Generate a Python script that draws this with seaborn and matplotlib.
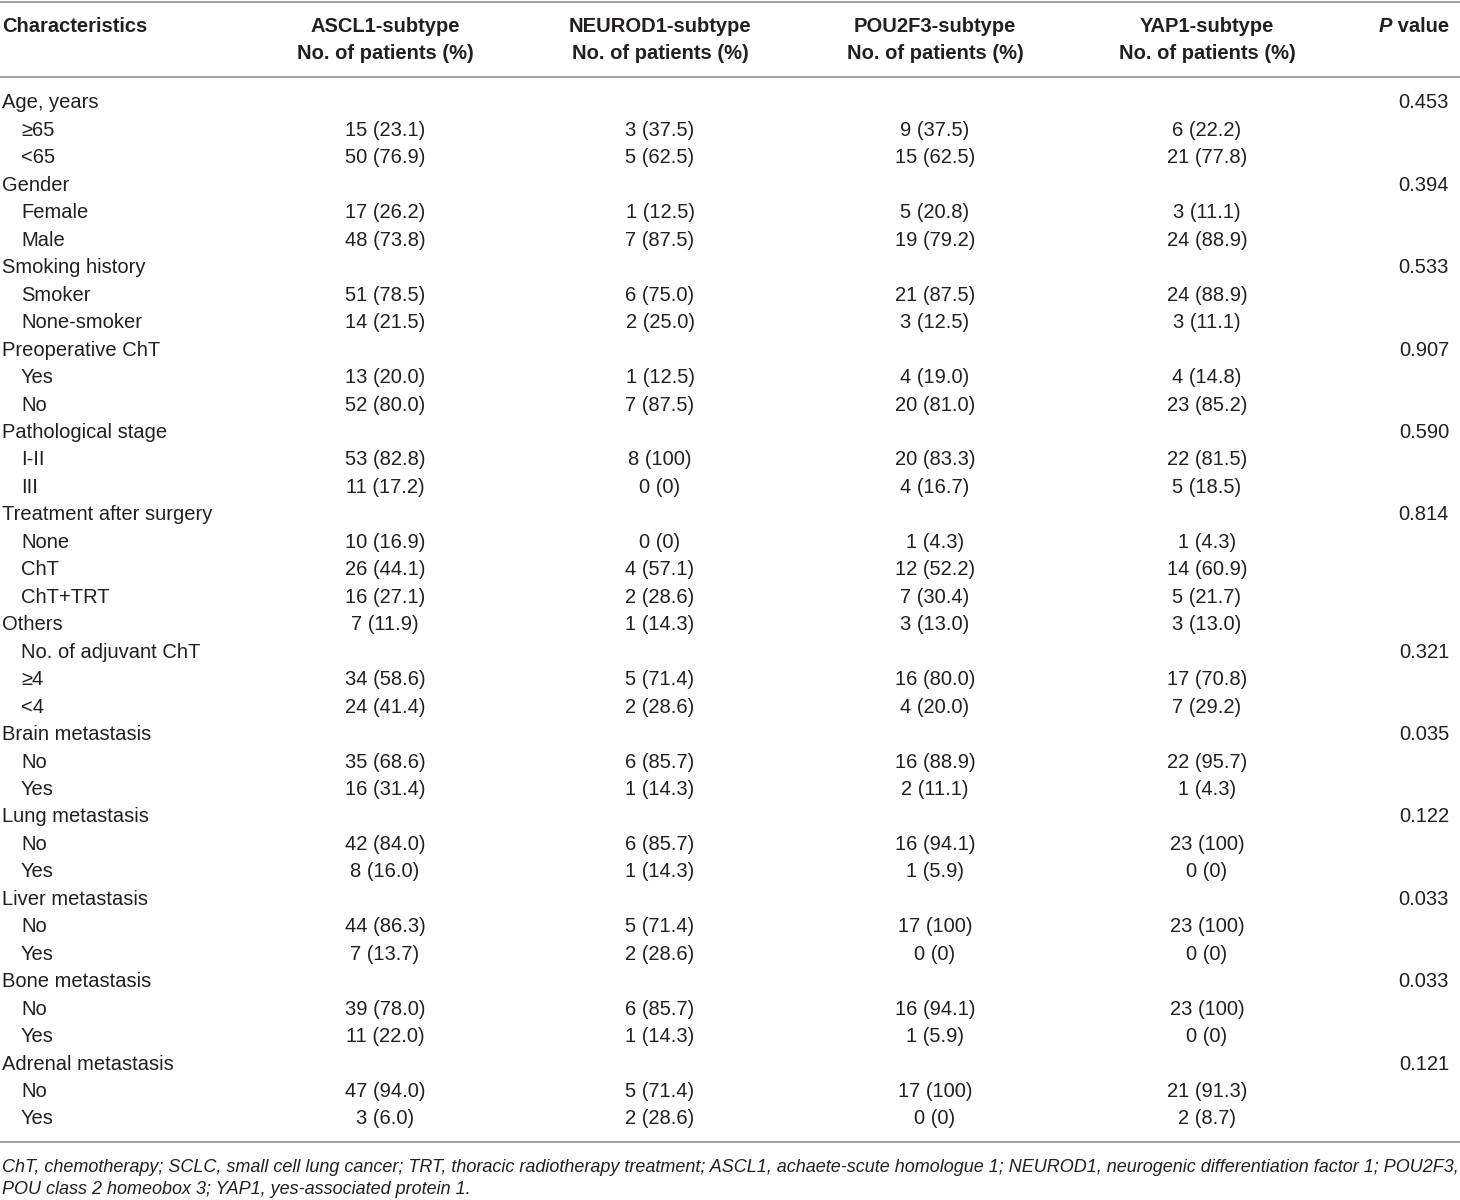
import numpy as np
import pandas as pd
import seaborn as sns
import matplotlib
matplotlib.use("Agg")
import matplotlib.pyplot as plt
from matplotlib import font_manager

# Table content
headers = ["ASCL1-subtype", "NEUROD1-subtype", "POU2F3-subtype", "YAP1-subtype"]
sub_header = "No. of patients (%)"

characteristics = [
    "Age, years", "≥65", "<65",
    "Gender", "Female", "Male",
    "Smoking history", "Smoker", "None-smoker",
    "Preoperative ChT", "Yes", "No",
    "Pathological stage", "I-II", "III",
    "Treatment after surgery", "None", "ChT", "ChT+TRT",
    "Others", "No. of adjuvant ChT", "≥4", "<4",
    "Brain metastasis", "No", "Yes",
    "Lung metastasis", "No", "Yes",
    "Liver metastasis", "No", "Yes",
    "Bone metastasis", "No", "Yes",
    "Adrenal metastasis", "No", "Yes",
]
# 0 = group heading, 1 = indented sub-row
indent = [
    0, 1, 1,
    0, 1, 1,
    0, 1, 1,
    0, 1, 1,
    0, 1, 1,
    0, 1, 1, 1,
    0, 1, 1, 1,
    0, 1, 1,
    0, 1, 1,
    0, 1, 1,
    0, 1, 1,
    0, 1, 1,
]

ascl1 = ["", "15 (23.1)", "50 (76.9)",
         "", "17 (26.2)", "48 (73.8)",
         "", "51 (78.5)", "14 (21.5)",
         "", "13 (20.0)", "52 (80.0)",
         "", "53 (82.8)", "11 (17.2)",
         "", "10 (16.9)", "26 (44.1)", "16 (27.1)",
         "7 (11.9)", "", "34 (58.6)", "24 (41.4)",
         "", "35 (68.6)", "16 (31.4)",
         "", "42 (84.0)", "8 (16.0)",
         "", "44 (86.3)", "7 (13.7)",
         "", "39 (78.0)", "11 (22.0)",
         "", "47 (94.0)", "3 (6.0)"]
neurod1 = ["", "3 (37.5)", "5 (62.5)",
           "", "1 (12.5)", "7 (87.5)",
           "", "6 (75.0)", "2 (25.0)",
           "", "1 (12.5)", "7 (87.5)",
           "", "8 (100)", "0 (0)",
           "", "0 (0)", "4 (57.1)", "2 (28.6)",
           "1 (14.3)", "", "5 (71.4)", "2 (28.6)",
           "", "6 (85.7)", "1 (14.3)",
           "", "6 (85.7)", "1 (14.3)",
           "", "5 (71.4)", "2 (28.6)",
           "", "6 (85.7)", "1 (14.3)",
           "", "5 (71.4)", "2 (28.6)"]
pou2f3 = ["", "9 (37.5)", "15 (62.5)",
          "", "5 (20.8)", "19 (79.2)",
          "", "21 (87.5)", "3 (12.5)",
          "", "4 (19.0)", "20 (81.0)",
          "", "20 (83.3)", "4 (16.7)",
          "", "1 (4.3)", "12 (52.2)", "7 (30.4)",
          "3 (13.0)", "", "16 (80.0)", "4 (20.0)",
          "", "16 (88.9)", "2 (11.1)",
          "", "16 (94.1)", "1 (5.9)",
          "", "17 (100)", "0 (0)",
          "", "16 (94.1)", "1 (5.9)",
          "", "17 (100)", "0 (0)"]
yap1 = ["", "6 (22.2)", "21 (77.8)",
        "", "3 (11.1)", "24 (88.9)",
        "", "24 (88.9)", "3 (11.1)",
        "", "4 (14.8)", "23 (85.2)",
        "", "22 (81.5)", "5 (18.5)",
        "", "1 (4.3)", "14 (60.9)", "5 (21.7)",
        "3 (13.0)", "", "17 (70.8)", "7 (29.2)",
        "", "22 (95.7)", "1 (4.3)",
        "", "23 (100)", "0 (0)",
        "", "23 (100)", "0 (0)",
        "", "23 (100)", "0 (0)",
        "", "21 (91.3)", "2 (8.7)"]
p_values = ["0.453", "", "",
            "0.394", "", "",
            "0.533", "", "",
            "0.907", "", "",
            "0.590", "", "",
            "0.814", "", "", "",
            "", "0.321", "", "",
            "0.035", "", "",
            "0.122", "", "",
            "0.033", "", "",
            "0.033", "", "",
            "0.121", "", ""]

footnote = ["ChT, chemotherapy; SCLC, small cell lung cancer; TRT, thoracic radiotherapy treatment; "
            "ASCL1, achaete-scute homologue 1; NEUROD1, neurogenic differentiation factor 1; POU2F3,",
            "POU class 2 homeobox 3; YAP1, yes-associated protein 1."]

df = pd.DataFrame({"char": characteristics, "indent": indent,
                   "ASCL1": ascl1, "NEUROD1": neurod1, "POU2F3": pou2f3,
                   "YAP1": yap1, "P": p_values})

sns.set_theme(style="white")
installed = {f.name for f in font_manager.fontManager.ttflist}
family = "Liberation Sans Narrow" if "Liberation Sans Narrow" in installed else "Liberation Sans"
plt.rcParams["font.family"] = [family, "DejaVu Sans"]

fig = plt.figure(figsize=(14.6, 12), dpi=100)
ax = fig.add_axes([0, 0, 1, 1])
# x in pixel-like units across the width, y in row units
ax.set_xlim(0, 1460)
ax.set_ylim(39.95, -3.751)
ax.axis("off")

fs = 14.5
text_color = "#231f20"
col_x = [385, 660, 935, 1207]
value_cols = ["ASCL1", "NEUROD1", "POU2F3", "YAP1"]

# header
ax.text(2, -2.80, "Characteristics", ha="left", va="center", fontsize=fs,
        fontweight="bold", color=text_color)
for x, h in zip(col_x, headers):
    ax.text(x, -2.80, h, ha="center", va="center", fontsize=fs,
            fontweight="bold", color=text_color)
    ax.text(x, -1.82, sub_header, ha="center", va="center", fontsize=fs,
            fontweight="bold", color=text_color)

# "P value" with italic P: place " value" then put P just left of it
val = ax.text(1449, -2.80, " value", ha="right", va="center", fontsize=fs,
              fontweight="bold", color=text_color)
fig.canvas.draw()
bb = val.get_window_extent(renderer=fig.canvas.get_renderer())
left_x = ax.transData.inverted().transform((bb.x0, bb.y0))[0]
ax.text(left_x, -2.80, "P", ha="right", va="center", fontsize=fs,
        fontweight="bold", fontstyle="italic", color=text_color)

# rules
for y in [-3.68, -0.947, 37.84]:
    ax.axhline(y, color="#9a9a9a", linewidth=1.3)

# body
for i, row in df.iterrows():
    ax.text(2 + 19 * row["indent"], i, row["char"], ha="left", va="center",
            fontsize=fs, color=text_color)
    for x, c in zip(col_x, value_cols):
        if row[c]:
            ax.text(x, i, row[c], ha="center", va="center", fontsize=fs, color=text_color)
    if row["P"]:
        ax.text(1449, i, row["P"], ha="right", va="center", fontsize=fs, color=text_color)

# footnote
ax.text(2, 38.75, footnote[0], ha="left", va="center", fontsize=13,
        fontstyle="italic", color=text_color)
ax.text(2, 39.58, footnote[1], ha="left", va="center", fontsize=13,
        fontstyle="italic", color=text_color)

fig.savefig("out.png", dpi=100, facecolor="white")
